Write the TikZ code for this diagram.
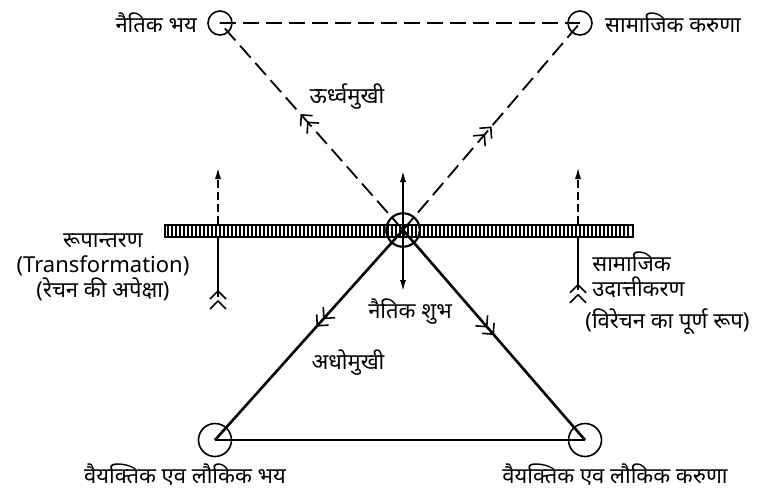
\documentclass[tikz,border=0pt]{standalone}
\usepackage{fontspec}
\setmainfont{Noto Sans}
\newfontfamily\deva[Script=Devanagari]{Noto Sans}
\usetikzlibrary{arrows.meta,positioning,decorations.markings}

\begin{document}
\begin{tikzpicture}[
  x=0.5pt, y=-0.5pt,
  font=\deva\fontsize{11}{12.5}\selectfont,
  knot/.style={circle, draw, line width=0.8pt, inner sep=0pt, minimum size=12pt},
  bigknot/.style={knot, minimum size=16.5pt},
  lbl/.style={inner sep=1pt, align=center},
  dashline/.style={line width=0.9pt, dash pattern=on 8pt off 3.5pt},
  solidline/.style={line width=1.3pt},
  midbarb/.style={postaction=decorate, decoration={markings,
    mark=at position #1 with {\arrow{Straight Barb[length=4pt,width=8pt,line width=0.8pt]Straight Barb[length=4pt,width=8pt,line width=0.8pt]}}}},
  tipup/.style={-{Latex[length=6pt,width=3pt]}},
]
\useasboundingbox (0,0) rectangle (771,494);

% the four corners and the centre
\node[knot] (bhay) at (220,23) {};
\node[knot] (karuna) at (580,23) {};
\node[bigknot] (shubh) at (403,230) {};
\node[bigknot] (lbhay) at (215,440) {};
\node[bigknot] (lkaruna) at (585,440) {};

% the hatched bar
\node[draw, line width=0.6pt, minimum width=234pt, minimum height=6pt, inner sep=0pt] (bar) at (399,231) {};
\foreach \x in {168,172,...,630}
  \draw[line width=1pt] (\x,226) -- (\x,236);
\node[knot, minimum size=17pt] at (shubh) {};

% upward (dashed) and downward (solid) paths
\draw[dashline] (bhay.center) -- (karuna.center);
\draw[dashline, midbarb=0.56] (shubh.center) -- (bhay.center);
\draw[dashline, midbarb=0.5] (shubh.center) -- (karuna.center);
\draw[solidline, midbarb=0.46] (shubh.center) -- (lbhay.center);
\draw[solidline, midbarb=0.5] (shubh.center) -- (lkaruna.center);
\draw[solidline] (lbhay.center) -- (lkaruna.center);

% vertical arrow through the centre
\coordinate (ctop) at (403,170);
\coordinate (cbot) at (403,292);
\draw[line width=1pt, {Latex[length=6pt,width=3pt]}-{Latex[length=6pt,width=3pt]}] (ctop) -- (cbot);

% side arrows
\coordinate (ltail) at (218,297);
\coordinate (ltip) at (218,167);
\draw[line width=1pt, midbarb=0.12] (ltail) -- (ltail |- bar.south);
\draw[dashline, dash pattern=on 4pt off 2pt, tipup] (ltail |- bar.north) -- (ltip);
\coordinate (rtail) at (578,290);
\coordinate (rtip) at (578,167);
\draw[line width=1pt, midbarb=0.12] (rtail) -- (rtail |- bar.south);
\draw[dashline, dash pattern=on 4pt off 2pt, tipup] (rtail |- bar.north) -- (rtip);

% labels
\node[lbl, left=4pt of bhay] {नैतिक भय};
\node[lbl, right=5pt of karuna] {सामाजिक करुणा};
\node[lbl] (urdhva) at (347,97) {ऊर्ध्वमुखी};
\node[lbl] (shubhlbl) at (410,312) {नैतिक शुभ};
\node[lbl] (adho) at (348,363) {अधोमुखी};
\node[lbl] (lbhaylbl) at (185,475) {वैयक्तिक एव लौकिक भय};
\node[lbl] (lkarunalbl) at (615,475) {वैयक्तिक एव लौकिक करुणा};
\node[lbl] (rupa) at (103,267) {रूपान्तरण\\(Transformation)\\(रेचन की अपेक्षा)};
\node[lbl, align=left, anchor=west] (udatt) at (590,275) {सामाजिक\\उदात्तीकरण};
\node[lbl, anchor=west] (virechan) at (583,322) {(विरेचन का पूर्ण रूप)};
\end{tikzpicture}
\end{document}
